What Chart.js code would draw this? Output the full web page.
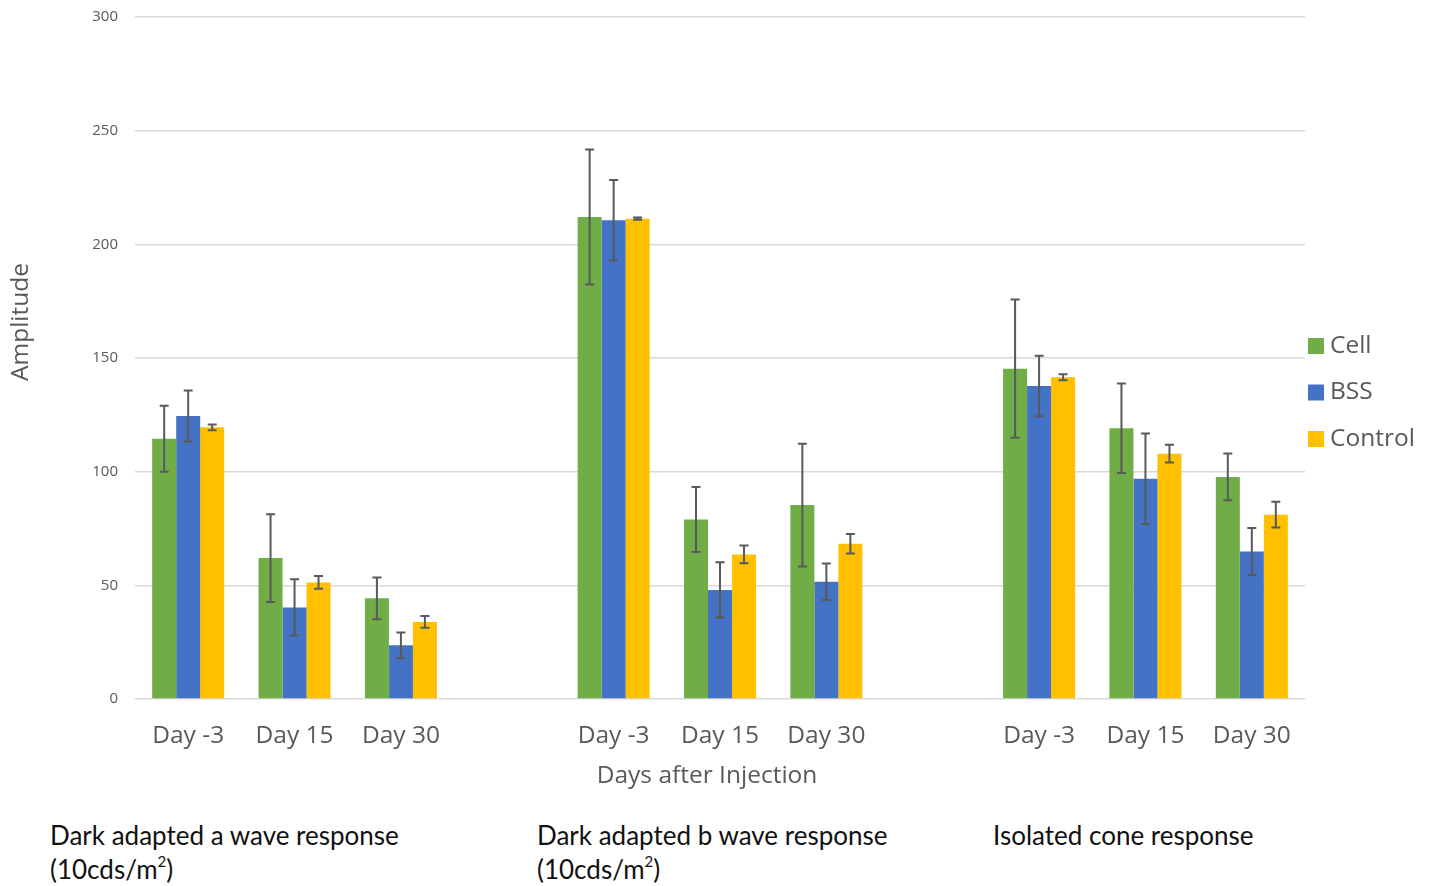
<!DOCTYPE html>
<html>
<head>
<meta charset="utf-8">
<script src="https://cdn.jsdelivr.net/npm/chart.js@4.4.1/dist/chart.umd.min.js"></script>
<style>
  body { margin: 0; background: #ffffff; }
  #wrap { position: absolute; left: 0; top: 0; width: 1429px; height: 790px; }
  .note {
    position: absolute;
    top: 818px;
    font-family: Lato, "Noto Sans", sans-serif;
    font-size: 26px;
    line-height: 34px;
    color: #111111;
  }
  .note sup { font-size: 15px; line-height: 0; position: relative; top: -2px; }
</style>
</head>
<body>
<div id="wrap"><canvas id="myChart"></canvas></div>
<div class="note" style="left:50px;">Dark adapted a wave response<br>(10cds/m<sup>2</sup>)</div>
<div class="note" style="left:537px;">Dark adapted b wave response<br>(10cds/m<sup>2</sup>)</div>
<div class="note" style="left:993px;">Isolated cone response</div>

<script>
// Catégories (une catégorie vide entre chaque groupe)
var categories = ["Day -3", "Day 15", "Day 30", "", "Day -3", "Day 15", "Day 30", "", "Day -3", "Day 15", "Day 30"];

// Valeurs moyennes
var cellValues = [114.5, 62, 44.3, null, 212, 79, 85.3, null, 145.3, 119.1, 97.7];
var bssValues = [124.5, 40.3, 23.6, null, 210.6, 48, 51.6, null, 137.7, 96.9, 64.9];
var controlValues = [119.5, 51.3, 33.9, null, 211.3, 63.6, 68.3, null, 141.5, 107.9, 81.1];

// Barres d'erreur (+/-)
var cellErrors = [14.5, 19.3, 9.2, null, 29.7, 14.3, 27, null, 30.4, 19.7, 10.3];
var bssErrors = [11.2, 12.4, 5.7, null, 17.7, 12.1, 8, null, 13.3, 19.9, 10.3];
var controlErrors = [1.3, 2.8, 2.6, null, 0.5, 3.9, 4.3, null, 1.3, 3.9, 5.7];

var yTicks = [0, 50, 100, 150, 200, 250, 300];

var textColor = "#595959";
var fontFamily = "'Open Sans', 'Noto Sans', sans-serif";

// Plugin pour dessiner les barres d'erreur
var errorBarsPlugin = {
  id: "errorBars",
  afterDatasetsDraw: function (chart) {
    var ctx = chart.ctx;
    var yScale = chart.scales.y;
    ctx.save();
    ctx.strokeStyle = "#595959";
    ctx.lineWidth = 2;
    chart.data.datasets.forEach(function (ds, i) {
      var meta = chart.getDatasetMeta(i);
      meta.data.forEach(function (bar, j) {
        var v = ds.data[j];
        var e = ds.errors[j];
        if (v === null || e === null) return;
        var yTop = yScale.getPixelForValue(v + e);
        var yBot = yScale.getPixelForValue(v - e);
        var x = bar.x;
        ctx.beginPath();
        ctx.moveTo(x, yTop);
        ctx.lineTo(x, yBot);
        ctx.moveTo(x - 4.5, yTop);
        ctx.lineTo(x + 4.5, yTop);
        ctx.moveTo(x - 4.5, yBot);
        ctx.lineTo(x + 4.5, yBot);
        ctx.stroke();
      });
    });
    ctx.restore();
  },
};

// Légende et titres des axes (placés comme dans Excel)
var sideLegendPlugin = {
  id: "sideLegend",
  afterDraw: function (chart) {
    var ctx = chart.ctx;
    var area = chart.chartArea;
    var ys = [346, 392.5, 439];
    ctx.save();
    ctx.font = "24.5px " + fontFamily;
    ctx.textBaseline = "middle";
    chart.data.datasets.forEach(function (ds, i) {
      var y = ys[i];
      ctx.fillStyle = ds.backgroundColor;
      ctx.fillRect(area.right + 3, y - 8, 16, 16);
      ctx.fillStyle = textColor;
      ctx.fillText(ds.label, area.right + 25, y);
    });

    // titre de l'axe x
    ctx.textAlign = "center";
    ctx.fillText("Days after Injection", 707, 776);

    // titre de l'axe y
    ctx.translate(21, 322);
    ctx.rotate(-Math.PI / 2);
    ctx.fillText("Amplitude", 0, 0);
    ctx.restore();
  },
};

var ctx = document.getElementById("myChart").getContext("2d");
var myChart = new Chart(ctx, {
  type: "bar",
  data: {
    labels: categories,
    datasets: [
      { label: "Cell", data: cellValues, errors: cellErrors, backgroundColor: "#70AD47" },
      { label: "BSS", data: bssValues, errors: bssErrors, backgroundColor: "#4472C4" },
      { label: "Control", data: controlValues, errors: controlErrors, backgroundColor: "#FFC000" },
    ],
  },
  options: {
    responsive: true,
    maintainAspectRatio: false,
    animation: false,
    datasets: {
      bar: { categoryPercentage: 0.677, barPercentage: 1.0 },
    },
    layout: { padding: { left: 8, right: 124, top: 17, bottom: 0 } },
    plugins: {
      legend: { display: false },
      tooltip: { enabled: false },
    },
    scales: {
      x: {
        grid: { display: false, drawTicks: false },
        border: { display: false },
        ticks: {
          color: textColor,
          font: { family: fontFamily, size: 24.5 },
          padding: 22,
          autoSkip: false,
          maxRotation: 0,
        },
        afterFit: function (scale) {
          scale.height = 91;
        },
      },
      y: {
        min: 0,
        max: 300,
        afterBuildTicks: function (scale) {
          scale.ticks = yTicks.map(function (v) { return { value: v }; });
        },
        grid: { color: "#D9D9D9", lineWidth: 1.5, drawTicks: false },
        border: { display: false },
        ticks: {
          color: textColor,
          font: { family: fontFamily, size: 15 },
          padding: 17,
        },
        afterFit: function (scale) {
          scale.width = 127;
          scale.paddingTop = 0;
          scale.paddingBottom = 0;
        },
      },
    },
  },
  plugins: [errorBarsPlugin, sideLegendPlugin],
});
</script>
</body>
</html>
